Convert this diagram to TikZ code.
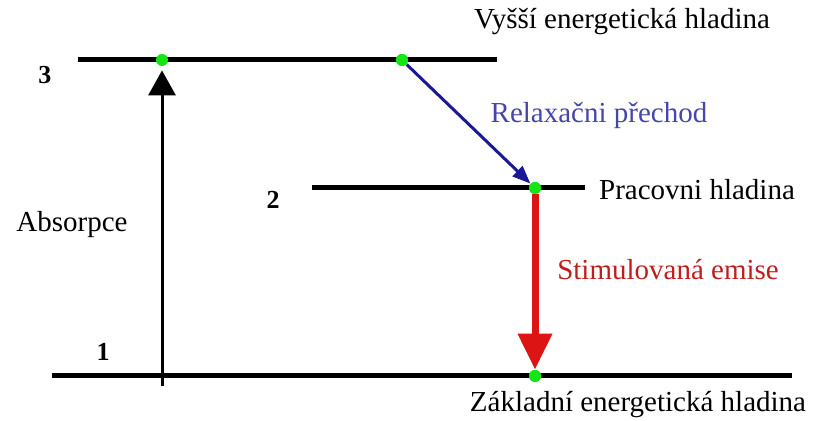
\documentclass[tikz,border=0pt]{standalone}
\usepackage{fontspec}
\setmainfont{Liberation Serif}
\usetikzlibrary{arrows.meta}
\definecolor{dotgreen}{RGB}{20,230,20}
\definecolor{relaxblue}{RGB}{25,25,150}
\definecolor{relaxtext}{RGB}{70,70,170}
\definecolor{emisred}{RGB}{220,20,20}
\definecolor{emistext}{RGB}{190,30,30}
\begin{document}
\begin{tikzpicture}[x=0.5pt,y=-0.5pt,
  level/.style={line width=2.5pt},
  dot/.style={circle,fill=dotgreen,inner sep=0pt,minimum size=6pt},
  lbl/.style={font=\fontsize{14.5}{16}\selectfont},
  num/.style={font=\fontsize{13}{15}\selectfont\bfseries}]
  \useasboundingbox (0,0) rectangle (813,421);
  % energy levels
  \coordinate (l3a) at (78,60);
  \coordinate (l3b) at (497,60);
  \coordinate (l2a) at (312,188);
  \coordinate (l2b) at (585,188);
  \coordinate (l1a) at (52,376);
  \coordinate (l1b) at (792,376);
  \draw[level] (l3a) -- (l3b);
  \draw[level] (l2a) -- (l2b);
  \draw[level] (l1a) -- (l1b);
  % points on the levels
  \node[dot] (a3) at (162,60) {};
  \node[dot] (b3) at (402,60) {};
  \node[dot] (c2) at (535,188) {};
  \node[dot] (c1) at (535,376) {};
  \coordinate (absbot) at (162,386);
  % transitions
  \draw[line width=1.5pt,-{Triangle[length=12.5pt,width=13.5pt]},shorten >=2pt]
    (absbot) -- (a3.south);
  \draw[relaxblue,line width=1.5pt,-{Triangle[length=9pt,width=7pt]}]
    (b3) -- (c2);
  \draw[emisred,line width=3.5pt,-{Triangle[length=18pt,width=16.5pt]}]
    (c2) -- (c1);
  \node[dot] at (c2) {};
  \node[dot] at (c1) {};
  \node[dot] at (b3) {};
  % labels
  \node[num] (n3) at (45,75) {3};
  \node[num] (n2) at (273,200) {2};
  \node[num] (n1) at (103,352) {1};
  \node[lbl] (abs) at (72,225) {Absorpce};
  \node[lbl] (vys) at (622,22) {Vyšší energetická hladina};
  \node[lbl,text=relaxtext] (rel) at (599,116) {Relaxačni přechod};
  \node[lbl] (prac) at (697,190) {Pracovni hladina};
  \node[lbl,text=emistext] (stim) at (668,270) {Stimulovaná emise};
  \node[lbl] (zakl) at (638,405) {Základní energetická hladina};
\end{tikzpicture}
\end{document}
